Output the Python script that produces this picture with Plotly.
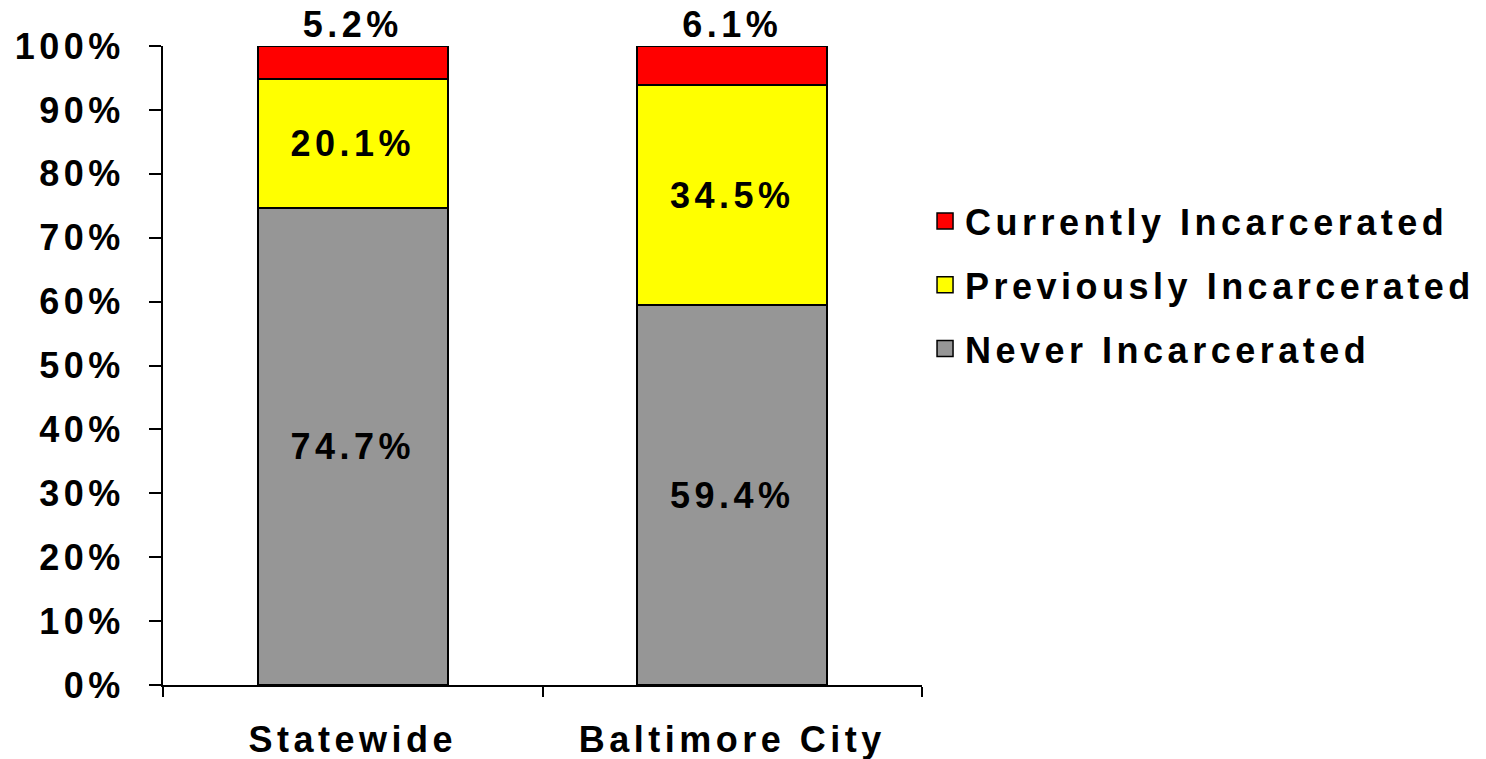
import plotly.graph_objects as go

categories = ["Statewide", "Baltimore City"]
series_names = ["Never Incarcerated", "Previously Incarcerated", "Currently Incarcerated"]
never_vals = [74.7, 59.4]
previously_vals = [20.1, 34.5]
currently_vals = [5.2, 6.1]
y_tick_vals = [0, 10, 20, 30, 40, 50, 60, 70, 80, 90, 100]
y_tick_labels = ["0%", "10%", "20%", "30%", "40%", "50%", "60%", "70%", "80%", "90%", "100%"]

colors = ["#969696", "#FFFF00", "#FF0000"]
SP = "letter-spacing:4.5px"
FONT = dict(family="Liberation Sans, Arial, sans-serif", size=36, color="black", weight="bold")


def sp(s):
    return f'<span style="{SP}">{s}</span>'


xcats = [sp(c) for c in categories]
series = [
    (series_names[0], never_vals, colors[0], 3),
    (series_names[1], previously_vals, colors[1], 2),
    (series_names[2], currently_vals, colors[2], 1),
]

fig = go.Figure()
for name, vals, col, rank in series:
    top = name == series_names[2]
    fig.add_trace(go.Bar(
        x=xcats,
        y=vals,
        name=sp(name),
        showlegend=False,
        marker=dict(color=col, line=dict(color="black", width=2)),
        text=None if top else [sp(f"{v:.1f}%") for v in vals],
        textposition="none" if top else "inside",
        insidetextanchor="middle",
        textfont=FONT,
        insidetextfont=FONT,
        cliponaxis=False,
        constraintext="none",
    ))

# label of the top segment, placed above each stack
totals = [round(a + b + c, 6) for a, b, c in zip(never_vals, previously_vals, currently_vals)]
fig.add_trace(go.Scatter(
    x=xcats, y=totals, mode="text",
    text=[sp(f"{v:.1f}%") for v in currently_vals],
    textposition="top center",
    textfont=FONT,
    showlegend=False, cliponaxis=False, hoverinfo="skip",
))

# legend entries
for name, vals, col, rank in series:
    fig.add_trace(go.Scatter(
        x=[None], y=[None], mode="markers",
        name=sp(name), legendrank=rank, legendgroup=name,
        marker=dict(symbol="square", size=22, color=col, line=dict(color="black", width=1.5)),
    ))

fig.update_layout(
    width=1486, height=759,
    barmode="stack",
    bargap=0.5,
    plot_bgcolor="white", paper_bgcolor="white",
    margin=dict(l=163, r=564, t=46, b=74, autoexpand=False),
    font=FONT,
    showlegend=True,
    legend=dict(
        x=1.004, y=0.773, xanchor="left", yanchor="top",
        traceorder="grouped",
        itemsizing="trace",
        tracegroupgap=14,
        font=FONT,
        bgcolor="rgba(0,0,0,0)",
    ),
)
fig.update_xaxes(
    showline=True, linecolor="black", linewidth=2,
    ticks="outside", tickson="boundaries", ticklen=10, tickwidth=2, tickcolor="black",
    tickfont=FONT, ticklabelstandoff=22, automargin=False,
    showgrid=False, zeroline=False,
)
fig.update_yaxes(
    range=[0, 100],
    tickvals=y_tick_vals, ticktext=[sp(t) for t in y_tick_labels],
    showline=True, linecolor="black", linewidth=2,
    ticks="outside", ticklen=12, tickwidth=2, tickcolor="black",
    tickfont=FONT, ticklabelstandoff=17, automargin=False,
    showgrid=False, zeroline=False,
)

fig.write_html("out.html", config={"displayModeBar": False},
               post_script="document.body.style.margin='0';")
